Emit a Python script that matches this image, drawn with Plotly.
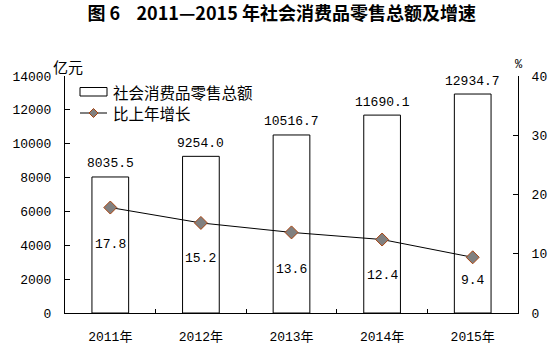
import plotly.graph_objects as go

years = ["2011年", "2012年", "2013年", "2014年", "2015年"]
sales = [8035.5, 9254.0, 10516.7, 11690.1, 12934.7]
growth = [17.8, 15.2, 13.6, 12.4, 9.4]
sales_labels = ["8035.5", "9254.0", "10516.7", "11690.1", "12934.7"]
growth_labels = ["17.8", "15.2", "13.6", "12.4", "9.4"]

W, H = 560, 355
L, R, T, B = 65, 518, 76, 313
NUM_FONT = "Liberation Mono, Noto Sans CJK SC"
CJK_FONT = "Noto Sans CJK SC"

def px(x):
    return (x - L) / (R - L)

def py(y):
    return (B - y) / (B - T)

fig = go.Figure()
fig.add_trace(go.Bar(
    x=years, y=sales, width=0.405,
    marker=dict(color="white", line=dict(color="black", width=1)),
    showlegend=False, hoverinfo="skip",
))
fig.add_trace(go.Scatter(
    x=years, y=growth, yaxis="y2", mode="lines+markers",
    line=dict(color="black", width=1),
    marker=dict(symbol="diamond", size=10, color="#808080",
                line=dict(color="#A8420E", width=1)),
    showlegend=False, hoverinfo="skip",
))

annotations = []
for yr, v, t in zip(years, sales, sales_labels):
    annotations.append(dict(x=yr, y=v, xref="x", yref="y", text=t, showarrow=False,
                            yanchor="middle", yshift=13,
                            font=dict(family=NUM_FONT, size=13, color="black")))
label_shift = [-37, -36, -37, -36, -23]
for yr, v, t, s in zip(years, growth, growth_labels, label_shift):
    annotations.append(dict(x=yr, y=v, xref="x", yref="y2", text=t, showarrow=False,
                            yanchor="middle", yshift=s,
                            font=dict(family=NUM_FONT, size=13, color="black")))

annotations += [
    dict(x=px(51), y=py(66), xref="paper", yref="paper", text="亿元", showarrow=False,
         xanchor="left", yanchor="middle", font=dict(family=CJK_FONT, size=15, color="black")),
    dict(x=px(519), y=py(65), xref="paper", yref="paper", text="%", showarrow=False,
         xanchor="center", yanchor="middle", font=dict(family=NUM_FONT, size=12, color="black")),
    dict(x=px(111), y=py(92), xref="paper", yref="paper", text="社会消费品零售总额", showarrow=False,
         xanchor="left", yanchor="middle", font=dict(family=CJK_FONT, size=15.5, color="black")),
    dict(x=px(111), y=py(113), xref="paper", yref="paper", text="比上年增长", showarrow=False,
         xanchor="left", yanchor="middle", font=dict(family=CJK_FONT, size=15.5, color="black")),
]

cx, cy, d = 93.5, 113, 4.5
shapes = [
    dict(type="rect", xref="paper", yref="paper", x0=px(80), x1=px(107), y0=py(96), y1=py(87.5),
         line=dict(color="black", width=1), fillcolor="white"),
    dict(type="line", xref="paper", yref="paper", x0=px(80), x1=px(107), y0=py(cy), y1=py(cy),
         line=dict(color="black", width=1)),
    dict(type="path", xref="paper", yref="paper",
         path=f"M {px(cx-d)} {py(cy)} L {px(cx)} {py(cy-d)} L {px(cx+d)} {py(cy)} L {px(cx)} {py(cy+d)} Z",
         fillcolor="#808080", line=dict(color="#A8420E", width=1)),
]

fig.update_layout(
    width=W, height=H,
    margin=dict(l=L, r=W - R, t=T, b=H - B, pad=0),
    paper_bgcolor="white", plot_bgcolor="white",
    title=dict(text="<b>图 6    2011—2015 年社会消费品零售总额及增速</b>",
               x=0.503, xref="container", xanchor="center",
               y=1 - 14 / H, yref="container", yanchor="middle",
               font=dict(family=CJK_FONT, size=18, color="black")),
    xaxis=dict(type="category", showline=True, linecolor="black", linewidth=1,
               ticks="inside", ticklen=4, tickcolor="black", tickson="boundaries",
               showgrid=False, zeroline=False, ticklabelstandoff=11, automargin=False,
               tickfont=dict(family=NUM_FONT, size=13, color="black")),
    yaxis=dict(range=[0, 14000], dtick=2000, tickformat="d", showline=True, linecolor="black",
               linewidth=1, ticks="inside", ticklen=5, tickcolor="black", showgrid=False,
               zeroline=False, ticklabelstandoff=10, automargin=False,
               tickfont=dict(family=NUM_FONT, size=13, color="black")),
    yaxis2=dict(range=[0, 40], dtick=10, overlaying="y", side="right", showline=True,
                linecolor="black", linewidth=1, ticks="inside", ticklen=5, tickcolor="black",
                showgrid=False, zeroline=False, ticklabelstandoff=10, automargin=False,
                tickfont=dict(family=NUM_FONT, size=13, color="black")),
    annotations=annotations, shapes=shapes,
)

fig.write_html("out.html", config={"displayModeBar": False},
               post_script="document.body.style.margin='0';document.body.style.overflow='hidden';")
